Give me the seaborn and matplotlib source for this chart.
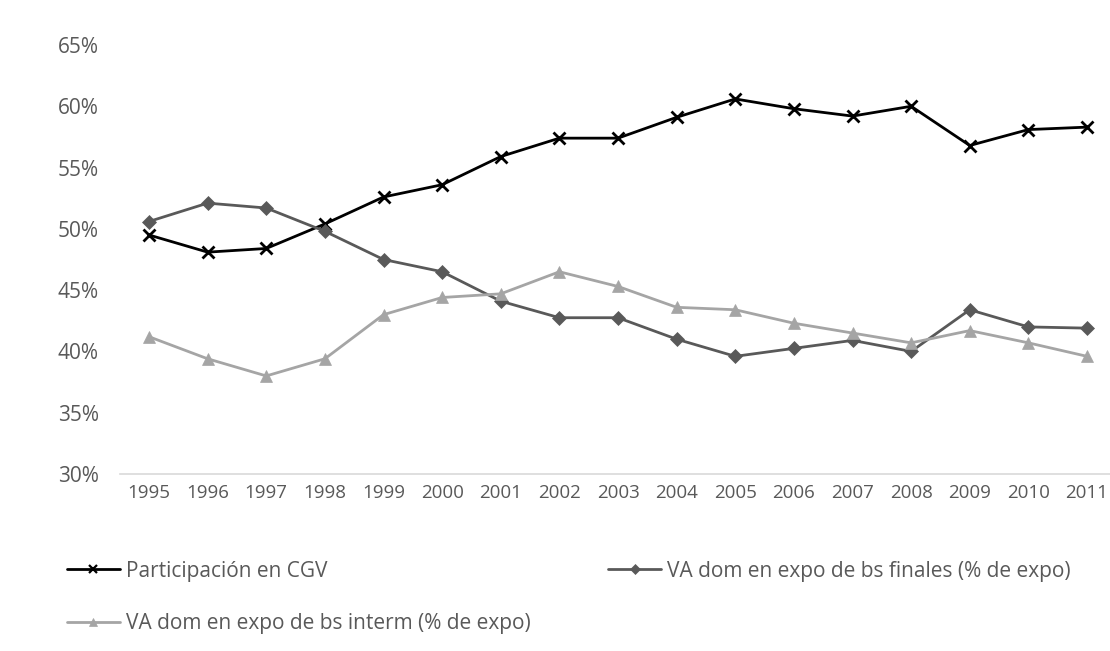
import matplotlib
matplotlib.use("Agg")
import matplotlib.pyplot as plt
from matplotlib.lines import Line2D
import seaborn as sns
import pandas as pd

years = list(range(1995, 2012))
participacion_cgv = [49.5, 48.1, 48.4, 50.4, 52.6, 53.6, 55.9, 57.4, 57.4, 59.1,
                     60.6, 59.8, 59.2, 60.0, 56.8, 58.1, 58.3]
va_bs_finales = [50.6, 52.1, 51.7, 49.8, 47.5, 46.5, 44.1, 42.75, 42.75, 41.0,
                 39.6, 40.25, 40.9, 40.0, 43.4, 42.0, 41.9]
va_bs_interm = [41.2, 39.4, 38.0, 39.4, 43.0, 44.4, 44.7, 46.5, 45.3, 43.6,
                43.4, 42.3, 41.5, 40.7, 41.7, 40.7, 39.6]
y_ticks = [30, 35, 40, 45, 50, 55, 60, 65]

series = [
    ("Participación en CGV", participacion_cgv, "#000000", "x", 9, 2.0),
    ("VA dom en expo de bs finales (% de expo)", va_bs_finales, "#595959", "D", 7, 2.0),
    ("VA dom en expo de bs interm (% de expo)", va_bs_interm, "#A5A5A5", "^", 9, 2.0),
]

sns.set_theme(style="white")
plt.rcParams["font.family"] = ["Open Sans", "DejaVu Sans"]

W, H = 1110, 651
fig = plt.figure(figsize=(W / 100, H / 100), dpi=100)
x_first, x_last = 149, 1087
spacing = (x_last - x_first) / 16
left, right, bottom, top = x_first - spacing / 2, 1110, 474, 45
ax = fig.add_axes([left / W, (H - bottom) / H, (right - left) / W, (bottom - top) / H])

legend_handles = {}
for name, vals, color, marker, ms, lw in series:
    df = pd.DataFrame({"year": years, "value": vals})
    sns.lineplot(data=df, x="year", y="value", ax=ax, color=color, marker=marker,
                 markersize=ms, linewidth=lw, markeredgecolor=color,
                 markeredgewidth=2.0 if marker == "x" else 0.5,
                 legend=False, clip_on=False)
    legend_handles[name] = Line2D([], [], color=color, linewidth=lw, marker=marker,
                                  markersize=ms * 0.7, markeredgecolor=color,
                                  markeredgewidth=1.6 if marker == "x" else 0.5)

ax.set_xlim(1994.5, 2011 + (right - x_last) / spacing)
ax.set_ylim(30, 65)
ax.set_xticks(years)
ax.set_xticklabels([str(y) for y in years])
ax.set_yticks(y_ticks)
ax.set_yticklabels([f"{t}%" for t in y_ticks])
ax.set_xlabel("")
ax.set_ylabel("")
ax.grid(False)
for side in ["top", "right", "left"]:
    ax.spines[side].set_visible(False)
ax.spines["bottom"].set_color("#D9D9D9")
ax.spines["bottom"].set_linewidth(1.2)
ax.tick_params(axis="both", length=0, colors="#595959")
ax.tick_params(axis="x", pad=7, labelsize=13.5)
ax.tick_params(axis="y", pad=15, labelsize=15)

order = ["Participación en CGV",
         "VA dom en expo de bs interm (% de expo)",
         "VA dom en expo de bs finales (% de expo)"]
fig.legend([legend_handles[n] for n in order], order, ncol=2, frameon=False,
           loc="upper left", bbox_to_anchor=(48 / W, 1 - 542 / H),
           fontsize=15, handlelength=2.55, handletextpad=0.3,
           columnspacing=3.7, labelspacing=1.5, labelcolor="#595959")

fig.savefig("out.png", dpi=100, facecolor="white")
